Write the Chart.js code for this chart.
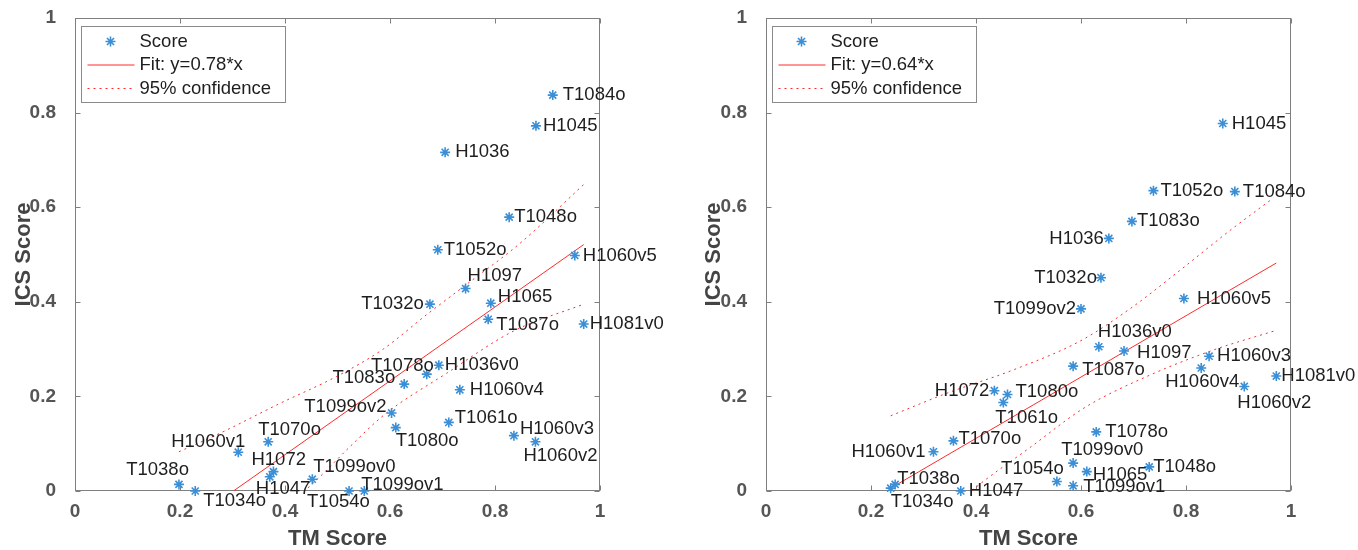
<!DOCTYPE html>
<html>
<head>
<meta charset="utf-8">
<script src="https://cdn.jsdelivr.net/npm/chart.js@4/dist/chart.umd.min.js"></script>
<style>
  html, body { margin: 0; padding: 0; background: #fff; }
  #wrap { position: relative; width: 1358px; height: 550px; overflow: hidden; }
  canvas { position: absolute; top: 0; }
  #left { left: 0; }
  #right { left: 683px; }
</style>
</head>
<body>
<div id="wrap">
  <canvas id="left" width="683" height="550"></canvas>
  <canvas id="right" width="675" height="550"></canvas>
</div>
<script>
// ─── data ─────────────────────────────────────────────
const targets = ["T1084o", "H1045", "H1036", "T1048o", "T1052o", "H1060v5", "H1097", "T1032o",
  "H1065", "T1087o", "H1081v0", "H1036v0", "T1078o", "T1083o", "H1060v4", "T1099ov2", "T1080o",
  "T1061o", "H1060v3", "H1060v2", "T1099ov0", "T1054o", "T1099ov1", "T1070o", "H1060v1",
  "H1072", "H1047", "T1038o", "T1034o"];

// left panel
const tmScoreA  = [0.910, 0.878, 0.705, 0.827, 0.691, 0.952, 0.744, 0.676, 0.792, 0.787, 0.969,
  0.693, 0.670, 0.627, 0.733, 0.603, 0.611, 0.712, 0.836, 0.877, 0.452, 0.522, 0.551, 0.368,
  0.311, 0.378, 0.371, 0.198, 0.229];
const icsScoreA = [0.837, 0.772, 0.716, 0.579, 0.510, 0.498, 0.428, 0.395, 0.397, 0.363, 0.353,
  0.266, 0.247, 0.226, 0.214, 0.165, 0.134, 0.145, 0.117, 0.104, 0.025, 0.000, 0.000, 0.104,
  0.082, 0.041, 0.030, 0.014, 0.000];
const fitLabelA = "Fit: y=0.78*x";
const fitXA = [0.198, 0.969];
const fitYA = [-0.081, 0.521];
const upperXA = [0.198, 0.276, 0.39, 0.498, 0.587, 0.67, 0.746, 0.848, 0.969];
const upperYA = [0.083, 0.122, 0.185, 0.242, 0.30, 0.373, 0.437, 0.524, 0.648];
const lowerXA = [0.198, 0.39, 0.457, 0.524, 0.59, 0.708, 0.835, 0.969];
const lowerYA = [-0.24, -0.045, 0.02, 0.094, 0.162, 0.249, 0.338, 0.395];

// right panel
const tmScoreB  = [0.893, 0.870, 0.653, 0.730, 0.738, 0.796, 0.682, 0.638, 0.611, 0.585, 0.972,
  0.634, 0.629, 0.697, 0.829, 0.600, 0.460, 0.452, 0.844, 0.911, 0.585, 0.554, 0.585, 0.357,
  0.319, 0.435, 0.371, 0.246, 0.2375];
const icsScoreB = [0.633, 0.777, 0.534, 0.051, 0.635, 0.407, 0.296, 0.451, 0.041, 0.264, 0.243,
  0.305, 0.125, 0.570, 0.260, 0.385, 0.204, 0.187, 0.285, 0.221, 0.059, 0.020, 0.011, 0.106,
  0.083, 0.212, 0.000, 0.014, 0.006];
const fitLabelB = "Fit: y=0.64*x";
const fitXB = [0.2375, 0.972];
const fitYB = [0.006, 0.482];
const upperXB = [0.2375, 0.344, 0.471, 0.60, 0.693, 0.789, 0.884, 0.966];
const upperYB = [0.159, 0.2065, 0.256, 0.318, 0.385, 0.467, 0.551, 0.619];
const lowerXB = [0.2375, 0.401, 0.503, 0.608, 0.725, 0.852, 0.97];
const lowerYB = [-0.149, 0.009, 0.092, 0.177, 0.242, 0.298, 0.339];

const axisTicks = [0, 0.2, 0.4, 0.6, 0.8, 1];
const xTitle = "TM Score";
const yTitle = "ICS Score";

// ─── label placement [align, dx, dy] ──────────────────
const placeA = {
  T1084o: ["left", 10, 0], H1045: ["left", 7, 0], H1036: ["left", 10, 0], T1048o: ["left", 5, 0],
  T1052o: ["left", 6, 0], H1060v5: ["left", 8, 0], H1097: ["left", 2, -13], T1032o: ["right", -6, 0],
  H1065: ["left", 7, -6], T1087o: ["left", 8, 6], H1081v0: ["left", 6, 0], H1036v0: ["left", 6, 0],
  T1078o: ["right", 7, -8], T1083o: ["right", -9, -6], H1060v4: ["left", 10, 0],
  T1099ov2: ["right", -5, -6], T1080o: ["left", 0, 13], T1061o: ["left", 6, -5],
  H1060v3: ["left", 6, -7], H1060v2: ["left", -12, 14], T1099ov0: ["left", 1, -12],
  T1054o: ["left", -42, 11], T1099ov1: ["left", -3, -6], T1070o: ["left", -10, -12],
  H1060v1: ["right", 7, -10], H1072: ["left", -22, -12], H1047: ["left", -14, 12],
  T1038o: ["right", 10, -14], T1034o: ["left", 8, 10]
};
const placeB = {
  H1045: ["left", 9, 0], T1052o: ["left", 7, 0], T1084o: ["left", 8, 0], T1083o: ["left", 5, 0],
  H1036: ["right", -5, 0], T1032o: ["right", -4, 0], H1060v5: ["left", 13, 0],
  T1099ov2: ["right", -5, 0], H1036v0: ["left", -1, -15], H1097: ["left", 13, 2],
  H1060v3: ["left", 8, 0], H1060v4: ["center", 1, 14], T1087o: ["left", 9, 4],
  H1081v0: ["left", 5, 0], H1060v2: ["left", -7, 16], T1080o: ["left", 8, -3],
  H1072: ["right", -5, 0], T1061o: ["left", -8, 15], T1070o: ["left", 5, -2],
  H1060v1: ["right", -8, 0], T1038o: ["left", 2, -5], T1034o: ["left", 0, 14],
  H1047: ["left", 8, 0], T1078o: ["left", 9, 0], T1099ov0: ["left", -12, -13],
  H1065: ["left", 6, 3], T1048o: ["left", 4, 0], T1054o: ["right", 7, -13], T1099ov1: ["left", 10, 1]
};

const FONT = "'Liberation Sans', Arial, Helvetica, sans-serif";
const BLUE = "#3a8fd6";
const RED = "#ff2b2b";
const AXIS = "#7f7f7f";
Chart.defaults.font.family = FONT;

// ─── plugins ──────────────────────────────────────────
const axesBox = {
  id: "axesBox",
  beforeDatasetsDraw(chart) {
    const { ctx, chartArea: a, scales: { x, y } } = chart;
    const L = Math.round(a.left) + 0.5, R = Math.round(a.right) - 0.5;
    const T = Math.round(a.top) + 0.5, B = Math.round(a.bottom) - 0.5;
    ctx.save();
    ctx.strokeStyle = AXIS;
    ctx.lineWidth = 1;
    ctx.strokeRect(L, T, R - L, B - T);
    ctx.beginPath();
    axisTicks.forEach(v => {
      const px = Math.round(x.getPixelForValue(v)) + 0.5;
      ctx.moveTo(px, B); ctx.lineTo(px, B - 5);
      ctx.moveTo(px, T); ctx.lineTo(px, T + 5);
      const py = Math.round(y.getPixelForValue(v)) + 0.5;
      ctx.moveTo(L, py); ctx.lineTo(L + 5, py);
      ctx.moveTo(R, py); ctx.lineTo(R - 5, py);
    });
    ctx.stroke();
    ctx.restore();
  }
};

const pointLabels = {
  id: "pointLabels",
  afterDatasetsDraw(chart, args, opts) {
    const { ctx } = chart;
    const meta = chart.getDatasetMeta(0);
    ctx.save();
    ctx.font = "18.5px " + FONT;
    ctx.fillStyle = "#1e1e1e";
    ctx.textBaseline = "middle";
    meta.data.forEach((pt, i) => {
      const p = opts.place[targets[i]] || ["left", 8, 0];
      ctx.textAlign = p[0];
      ctx.fillText(targets[i], pt.x + p[1], pt.y + p[2]);
    });
    ctx.restore();
  }
};

const boxLegend = {
  id: "boxLegend",
  afterDraw(chart, args, opts) {
    const { ctx, chartArea: a } = chart;
    const bx = Math.round(a.left) + 6.5, by = Math.round(a.top) + 8.5, bw = 204, bh = 76;
    const rows = [by + 15, by + 38.5, by + 62];
    ctx.save();
    ctx.fillStyle = "#fff";
    ctx.fillRect(bx, by, bw, bh);
    ctx.strokeStyle = "#8a8a8a";
    ctx.lineWidth = 1;
    ctx.strokeRect(bx, by, bw, bh);
    // marker
    ctx.strokeStyle = BLUE;
    ctx.lineWidth = 1.6;
    Chart.helpers.drawPoint(ctx, { pointStyle: "star", radius: 5, borderWidth: 1.6 }, bx + 29, rows[0]);
    // fit + confidence samples
    ctx.strokeStyle = RED;
    ctx.lineWidth = 1;
    ctx.beginPath();
    ctx.moveTo(bx + 6, rows[1]); ctx.lineTo(bx + 53, rows[1]);
    ctx.stroke();
    ctx.setLineDash([2, 4]);
    ctx.beginPath();
    ctx.moveTo(bx + 6, rows[2]); ctx.lineTo(bx + 53, rows[2]);
    ctx.stroke();
    ctx.setLineDash([]);
    ctx.fillStyle = "#1e1e1e";
    ctx.font = "18.5px " + FONT;
    ctx.textBaseline = "middle";
    ctx.textAlign = "left";
    ctx.fillText("Score", bx + 58, rows[0]);
    ctx.fillText(opts.fitLabel, bx + 58, rows[1]);
    ctx.fillText("95% confidence", bx + 58, rows[2]);
    ctx.restore();
  }
};

// ─── chart builder ────────────────────────────────────
function pairs(xs, ys) {
  return xs.map((v, i) => ({ x: v, y: ys[i] }));
}

function tickFmt(v) {
  return String(Math.round(v * 10) / 10);
}

function makePanel(id, p) {
  return new Chart(document.getElementById(id), {
    type: "scatter",
    data: {
      datasets: [
        { label: "Score", data: pairs(p.tx, p.ty), pointStyle: "star", pointRadius: 5,
          pointBorderWidth: 1.6, borderColor: BLUE, backgroundColor: BLUE, clip: false, order: 0 },
        { label: p.fitLabel, data: pairs(p.fx, p.fy), showLine: true, pointRadius: 0,
          borderColor: RED, borderWidth: 1, order: 1 },
        { label: "95% confidence", data: pairs(p.ux, p.uy), showLine: true, pointRadius: 0,
          borderColor: RED, borderWidth: 1, borderDash: [2, 4], cubicInterpolationMode: "monotone", order: 1 },
        { label: "95% confidence", data: pairs(p.lx, p.ly), showLine: true, pointRadius: 0,
          borderColor: RED, borderWidth: 1, borderDash: [2, 4], cubicInterpolationMode: "monotone", order: 1 }
      ]
    },
    options: {
      responsive: false,
      animation: false,
      events: [],
      layout: { padding: { left: 0, top: 18, right: p.padRight, bottom: 0 } },
      plugins: {
        legend: { display: false },
        tooltip: { enabled: false },
        pointLabels: { place: p.place },
        boxLegend: { fitLabel: p.fitLabel }
      },
      scales: {
        x: {
          type: "linear", min: 0, max: 1,
          afterFit: s => { s.height = 59; s.paddingLeft = 0; s.paddingRight = 0; },
          afterBuildTicks: s => { s.ticks = axisTicks.map(v => ({ value: v })); },
          grid: { display: false, drawTicks: false },
          border: { display: false },
          ticks: { padding: 9, color: "#555", font: { size: 19, weight: "bold" }, callback: tickFmt },
          title: { display: true, text: xTitle, color: "#444", font: { size: 22, weight: "bold" },
                   padding: { top: 0, bottom: -2 } }
        },
        y: {
          type: "linear", min: 0, max: 1,
          afterFit: s => { s.width = p.yWidth; s.paddingTop = 0; s.paddingBottom = 0; },
          afterBuildTicks: s => { s.ticks = axisTicks.map(v => ({ value: v })); },
          grid: { display: false, drawTicks: false },
          border: { display: false },
          ticks: { padding: 19, color: "#555", font: { size: 19, weight: "bold" }, callback: tickFmt },
          title: { display: true, text: yTitle, color: "#444", font: { size: 22, weight: "bold" },
                   padding: { top: p.yTitlePad, bottom: 0 } }
        }
      }
    },
    plugins: [axesBox, pointLabels, boxLegend]
  });
}

makePanel("left", {
  tx: tmScoreA, ty: icsScoreA, fx: fitXA, fy: fitYA, ux: upperXA, uy: upperYA, lx: lowerXA, ly: lowerYA,
  fitLabel: fitLabelA, place: placeA, padRight: 83, yWidth: 75, yTitlePad: 11
});
makePanel("right", {
  tx: tmScoreB, ty: icsScoreB, fx: fitXB, fy: fitYB, ux: upperXB, uy: upperYB, lx: lowerXB, ly: lowerYB,
  fitLabel: fitLabelB, place: placeB, padRight: 67, yWidth: 83, yTitlePad: 18
});
</script>
</body>
</html>
